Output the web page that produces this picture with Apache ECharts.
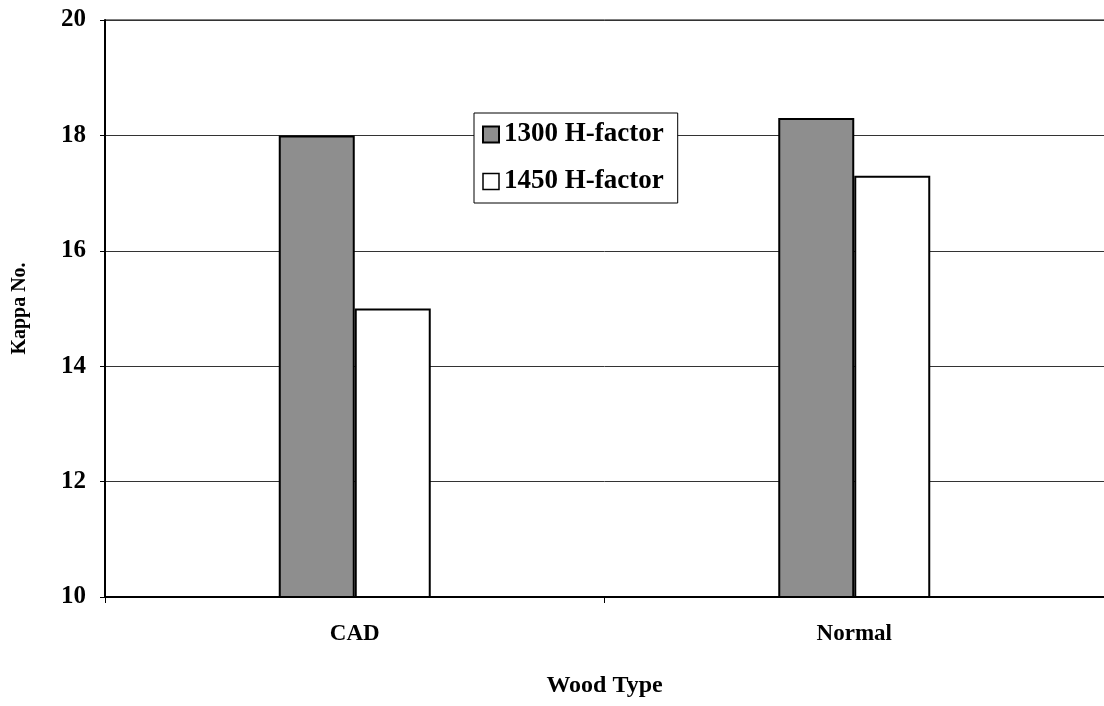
<!DOCTYPE html>
<html>
<head>
<meta charset="utf-8">
<script src="https://cdn.jsdelivr.net/npm/echarts@6/dist/echarts.min.js"></script>
<style>
  html, body { margin: 0; padding: 0; background: #fff; }
  #main { width: 1104px; height: 706px; }
</style>
</head>
<body>
<div id="main"></div>
<script>
// data
var categories = ["CAD", "Normal"];
var h1300 = [18.0, 18.3];
var h1450 = [15.0, 17.3];
var yTicks = [10, 12, 14, 16, 18, 20];

var chart = echarts.init(document.getElementById("main"));
var font = "Liberation Serif";

var option = {
  backgroundColor: "#fff",
  animation: false,
  textStyle: { fontFamily: font },
  grid: { left: 105, top: 20, width: 1008, height: 577 },
  legend: {
    orient: "vertical",
    left: 474,
    top: 113,
    padding: [8, 14, 8, 8],
    itemGap: 20,
    itemWidth: 16,
    itemHeight: 16,
    icon: "rect",
    backgroundColor: "#fff",
    borderColor: "#000",
    borderWidth: 1,
    textStyle: { fontFamily: font, fontWeight: "bold", fontSize: 27, lineHeight: 27, color: "#000" },
    data: [
      { name: "1300 H-factor", itemStyle: { color: "#8e8e8e", borderColor: "#000", borderWidth: 2 } },
      { name: "1450 H-factor", itemStyle: { color: "#fff", borderColor: "#000", borderWidth: 1.5 } }
    ]
  },
  xAxis: {
    type: "category",
    data: categories,
    name: "Wood Type",
    nameLocation: "middle",
    nameGap: 77,
    nameTextStyle: { fontFamily: font, fontWeight: "bold", fontSize: 24, color: "#000" },
    axisLine: { lineStyle: { color: "#000", width: 2 } },
    axisTick: { show: true, length: 6, lineStyle: { color: "#000" } },
    axisLabel: { fontFamily: font, fontWeight: "bold", fontSize: 23, color: "#000", margin: 26 }
  },
  yAxis: {
    type: "value",
    min: yTicks[0],
    max: yTicks[yTicks.length - 1],
    interval: 2,
    name: "Kappa No.",
    nameLocation: "middle",
    nameGap: 75,
    nameRotate: 90,
    nameTextStyle: { fontFamily: font, fontWeight: "bold", fontSize: 20, color: "#000" },
    axisLine: { show: true, lineStyle: { color: "#000", width: 2 } },
    axisTick: { show: true, length: 5, lineStyle: { color: "#000" } },
    axisLabel: { fontFamily: font, fontWeight: "bold", fontSize: 25, color: "#000", margin: 19 },
    splitLine: { show: true, lineStyle: { color: "#333", width: 1 } }
  },
  series: [
    {
      name: "1300 H-factor",
      type: "bar",
      data: h1300,
      barWidth: 76,
      barGap: "0%",
      itemStyle: { color: "#8e8e8e", borderColor: "#000", borderWidth: 2 }
    },
    {
      name: "1450 H-factor",
      type: "bar",
      data: h1450,
      barWidth: 76,
      barGap: "0%",
      itemStyle: { color: "#fff", borderColor: "#000", borderWidth: 2 }
    }
  ],
  graphic: [
    { type: "line", shape: { x1: 105, y1: 20, x2: 1104, y2: 20 }, style: { stroke: "#000", lineWidth: 1 } }
  ]
};

chart.setOption(option);
</script>
</body>
</html>
